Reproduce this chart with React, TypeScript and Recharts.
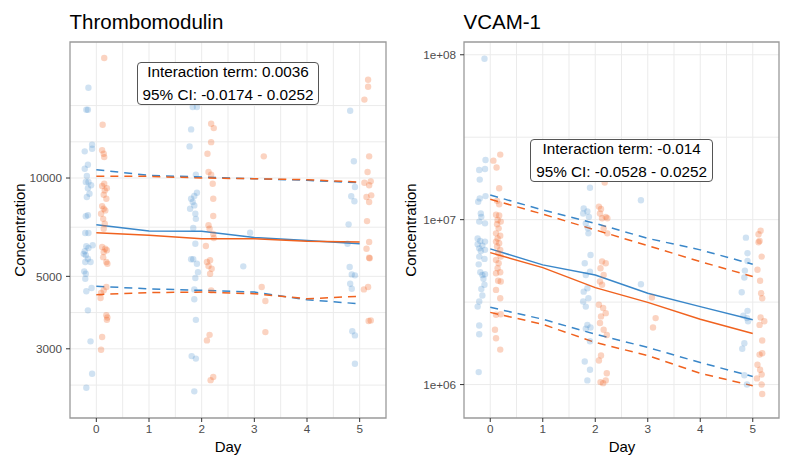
import { ComposedChart, Scatter, Line, XAxis, YAxis, CartesianGrid, ReferenceArea } from 'recharts';

// prediction days for the fitted lines
const days = [0, 1, 2, 3, 4, 5];
const dayTicks = [0, 1, 2, 3, 4, 5];
const dayGrid = [0, 0.5, 1, 1.5, 2, 2.5, 3, 3.5, 4, 4.5, 5];

// ---- Thrombomodulin ----
const tmTicks = [3000, 5000, 10000];
const tmTickLabels = ['3000', '5000', '10000'];
const tmGrid = [2323, 3000, 3873, 5000, 7071, 10000, 12909, 16667];
const tmDomain = [1842, 26090];

const tmBlueMid = [7195, 6880, 6868, 6570, 6440, 6295];
const tmOrangeMid = [6800, 6675, 6515, 6515, 6400, 6365];
const tmBlueHi = [10600, 10190, 10070, 9950, 9840, 9675];
const tmOrangeHi = [10120, 10120, 10000, 9950, 9880, 9720];
const tmBlueLo = [4660, 4580, 4530, 4475, 4240, 4120];
const tmOrangeLo = [4395, 4460, 4475, 4425, 4270, 4345];

const tmBluePts = [
  [-0.15, 18900], [-0.19, 16180], [-0.16, 16180], [-0.22, 12070], [-0.08, 12650], [-0.08, 12290],
  [-0.16, 10980], [-0.22, 10680], [-0.18, 10140], [-0.2, 9720], [-0.15, 9720], [-0.1, 9500],
  [-0.16, 9310], [-0.13, 8950], [-0.18, 8750], [-0.2, 7635], [-0.16, 7690], [-0.21, 6785],
  [-0.15, 6785], [-0.07, 6225], [-0.19, 6180], [-0.15, 6105], [-0.22, 5965], [-0.24, 5860],
  [-0.2, 5800], [-0.16, 5660], [-0.11, 5530], [-0.21, 5530], [-0.23, 5180], [-0.2, 5090],
  [-0.21, 4915], [-0.19, 4500], [-0.09, 4605], [-0.16, 3935], [-0.11, 3162], [-0.08, 2517],
  [-0.19, 2280],
  [1.83, 16490], [1.91, 16490], [1.8, 14090], [1.77, 12500], [1.89, 10240], [1.8, 8645],
  [1.86, 8810], [1.91, 9015], [1.83, 8445], [1.86, 8245], [1.78, 8055], [1.88, 7780],
  [1.89, 7500], [1.84, 7030], [1.88, 6295], [1.8, 5640], [1.84, 5640], [1.91, 5465],
  [1.93, 5150], [1.88, 4940], [1.86, 4560], [1.86, 4255], [1.89, 3680], [1.81, 2850],
  [1.89, 2800], [1.86, 2223],
  [2.92, 6800], [2.79, 5365],
  [4.82, 16070], [4.89, 11250], [4.91, 9385], [4.84, 8790], [4.9, 8486], [4.79, 7215],
  [4.77, 6295], [4.81, 5340], [4.85, 5070], [4.91, 5035], [4.82, 4748], [4.85, 4580],
  [4.86, 3394], [4.91, 3298], [4.91, 2700],
];

const tmOrangePts = [
  [0.15, 23300], [0.12, 14560], [0.11, 12160], [0.14, 11870], [0.15, 11590], [0.15, 9605],
  [0.2, 9310], [0.11, 9450], [0.16, 9165], [0.14, 8890], [0.19, 8645], [0.11, 8205],
  [0.14, 8055], [0.17, 7960], [0.09, 7780], [0.13, 7500], [0.16, 7245], [0.14, 6995],
  [0.11, 6150], [0.17, 6075], [0.14, 5935], [0.2, 6010], [0.13, 5725], [0.19, 5530],
  [0.21, 5465], [0.19, 4640], [0.14, 4530], [0.09, 4450], [0.08, 4292], [0.19, 3800],
  [0.2, 3680], [0.21, 3740], [0.11, 3260], [0.09, 2980],
  [2.18, 14660], [2.23, 14220], [2.18, 12880], [2.11, 11870], [2.13, 10430], [2.18, 10240],
  [2.21, 9605], [2.22, 8645], [2.22, 7650], [2.13, 7165], [2.15, 6995], [2.22, 6745],
  [2.08, 6195], [2.23, 6550], [2.16, 5600], [2.1, 5530], [2.13, 5380], [2.19, 5275],
  [2.16, 5090], [2.18, 4530], [2.15, 3310], [2.1, 3183], [2.22, 2460], [2.17, 2405],
  [3.18, 11650], [3.14, 4640], [3.21, 4202], [3.21, 3375],
  [5.16, 20000], [5.16, 19040], [5.09, 17380], [5.18, 11650], [5.15, 10430], [5.09, 9674],
  [5.21, 9770], [5.18, 9500], [5.13, 8750], [5.22, 8850], [5.18, 8445], [5.14, 7380],
  [5.18, 6370], [5.13, 6075], [5.18, 5700], [5.19, 5680], [5.08, 4560], [5.16, 4640],
  [5.17, 3650], [5.21, 3665],
];

// ---- VCAM-1 ----
const vcTicks = [1e6, 1e7, 1e8];
const vcTickLabels = ['1e+06', '1e+07', '1e+08'];
const vcGrid = [1e6, 3.162e6, 1e7, 3.162e7, 1e8];
const vcDomain = [6.27e5, 1.195e8];

const vcBlueMid = [6.65e6, 5.32e6, 4.62e6, 3.58e6, 2.97e6, 2.47e6];
const vcOrangeMid = [6.31e6, 5.12e6, 3.87e6, 3.15e6, 2.49e6, 2.04e6];
const vcBlueHi = [1.41e7, 1.145e7, 9.5e6, 7.7e6, 6.56e6, 5.37e6];
const vcOrangeHi = [1.33e7, 1.08e7, 8.67e6, 6.96e6, 5.57e6, 4.52e6];
const vcBlueLo = [2.94e6, 2.49e6, 2.02e6, 1.68e6, 1.36e6, 1.12e6];
const vcOrangeLo = [2.74e6, 2.32e6, 1.8e6, 1.5e6, 1.17e6, 9.84e5];

const vcBluePts = [
  [-0.11, 9.46e7], [-0.09, 2.3e7], [-0.21, 2.0e7], [-0.1, 2.03e7], [-0.2, 1.75e7], [-0.23, 1.285e7],
  [-0.2, 1.346e7], [-0.09, 1.39e7], [-0.18, 1.09e7], [-0.21, 9.73e6], [-0.1, 9.5e6], [-0.17, 1.04e7],
  [-0.24, 7.7e6], [-0.19, 7.43e6], [-0.1, 7.36e6], [-0.15, 6.96e6], [-0.24, 7.09e6], [-0.21, 6.7e6],
  [-0.18, 6.46e6], [-0.1, 6.56e6], [-0.21, 5.97e6], [-0.11, 5.78e6], [-0.22, 5.36e6], [-0.19, 4.8e6],
  [-0.15, 4.62e6], [-0.1, 4.67e6], [-0.13, 4.38e6], [-0.11, 4.03e6], [-0.17, 3.8e6], [-0.15, 3.47e6],
  [-0.21, 3.19e6], [-0.24, 2.97e6], [-0.21, 2.28e6], [-0.21, 2.02e6], [-0.22, 1.19e6],
  [1.9, 1.56e7], [1.78, 1.17e7], [1.85, 1.12e7], [1.77, 1.09e7], [1.88, 1.04e7], [1.82, 9.5e6],
  [1.86, 8.86e6], [1.87, 8.26e6], [1.91, 6.11e6], [1.8, 5.44e6], [1.9, 4.84e6], [1.82, 4.62e6],
  [1.85, 3.84e6], [1.78, 3.66e6], [1.87, 3.34e6], [1.77, 3.19e6], [1.82, 2.97e6], [1.85, 2.3e6],
  [1.91, 2.22e6], [1.82, 2.18e6], [1.9, 1.83e6], [1.8, 1.38e6], [1.9, 1.23e6], [1.85, 1.06e6],
  [2.87, 1.31e7], [2.87, 4.06e6],
  [4.87, 7.78e6], [4.9, 6.26e6], [4.9, 5.62e6], [4.85, 4.91e6], [4.84, 4.46e6], [4.79, 3.63e6],
  [4.9, 2.8e6], [4.82, 2.62e6], [4.89, 2.53e6], [4.91, 2.42e6], [4.84, 1.78e6], [4.8, 1.65e6],
  [4.84, 1.14e6], [4.89, 1.0e6],
];

const vcOrangePts = [
  [0.06, 2.28e7], [0.19, 2.48e7], [0.12, 2.07e7], [0.17, 1.55e7], [0.13, 1.3e7], [0.17, 1.24e7],
  [0.11, 1.07e7], [0.17, 1.06e7], [0.14, 9.95e6], [0.2, 9.73e6], [0.13, 9.37e6], [0.16, 8.86e6],
  [0.11, 8.26e6], [0.19, 8.0e6], [0.14, 7.7e6], [0.11, 7.36e6], [0.17, 7.19e6], [0.13, 6.87e6],
  [0.19, 6.56e6], [0.15, 6.26e6], [0.2, 5.97e6], [0.11, 5.7e6], [0.16, 5.44e6], [0.14, 5.07e6],
  [0.19, 4.8e6], [0.11, 4.73e6], [0.15, 4.26e6], [0.2, 4.22e6], [0.11, 3.75e6], [0.19, 3.34e6],
  [0.11, 2.65e6], [0.2, 2.67e6], [0.09, 2.15e6], [0.11, 1.91e6], [0.19, 1.63e6],
  [2.18, 1.68e7], [2.07, 1.2e7], [2.11, 1.16e7], [2.09, 1.09e7], [2.2, 1.04e7], [2.13, 1.02e7],
  [2.23, 1.02e7], [2.16, 8.86e6], [2.23, 8.26e6], [2.13, 5.57e6], [2.2, 5.44e6], [2.1, 5.07e6],
  [2.16, 4.62e6], [2.09, 4.22e6], [2.13, 4.03e6], [2.07, 3.05e6], [2.15, 2.91e6], [2.11, 2.59e6],
  [2.2, 2.71e6], [2.09, 2.36e6], [2.16, 2.15e6], [2.22, 2.0e6], [2.11, 1.5e6], [2.07, 1.4e6],
  [2.22, 1.17e6], [2.1, 1.035e6], [2.15, 1.02e6], [2.2, 1.06e6],
  [3.08, 3.37e6], [3.15, 2.53e6], [3.1, 2.22e6],
  [5.15, 8.58e6], [5.11, 8.15e6], [5.13, 7.43e6], [5.11, 7.3e6], [5.17, 5.97e6], [5.09, 4.97e6],
  [5.14, 4.26e6], [5.16, 3.58e6], [5.18, 3.34e6], [5.15, 2.55e6], [5.22, 2.42e6], [5.13, 2.3e6],
  [5.18, 1.85e6], [5.18, 1.55e6], [5.13, 1.52e6], [5.09, 1.32e6], [5.14, 1.23e6], [5.17, 1.15e6],
  [5.08, 1.09e6], [5.17, 1.0e6], [5.18, 8.77e5],
];

const BLUE = '#3a87c9';
const ORANGE = '#f0621f';
const FONT = '"Liberation Sans", Arial, sans-serif';

const toPts = (arr: number[][]) => arr.map(([x, y]) => ({ x, y }));
const toLine = (vals: number[]) => days.map((d, i) => ({ x: d, y: vals[i] }));

const dot = (color: string, op: number) => (p: any) => (
  <circle cx={p.cx} cy={p.cy} r={3.2} fill={color} fillOpacity={op} stroke="none" />
);

const Panel = ({ left, title, blue, orange, lines, ticks, tickLabels, grid, domain, box, boxPos, marginRight, ylabX }: any) => {
  const fmt = (v: number) => tickLabels[ticks.indexOf(v)] ?? String(v);
  return (
    <div style={{ position: 'absolute', left, top: 0, width: 394, height: 457 }}>
      <ComposedChart width={394} height={457} margin={{ top: 42, right: marginRight, bottom: 0, left: 0 }}>
        <CartesianGrid horizontalValues={grid} verticalValues={dayGrid} stroke="#ebebeb" strokeWidth={1} />
        <XAxis
          type="number" dataKey="x" domain={[-0.5, 5.5]} ticks={dayTicks} interval={0} allowDataOverflow
          axisLine={false} tickLine={{ stroke: '#333' }} tickSize={4} tickMargin={3} height={39}
          tick={{ fill: '#4d4d4d', fontSize: 11.7 }}
        />
        <YAxis
          type="number" dataKey="y" scale="log" domain={domain} ticks={ticks} interval={0} allowDataOverflow
          axisLine={false} tickLine={{ stroke: '#333' }} tickSize={4} tickMargin={4} width={70}
          tick={{ fill: '#4d4d4d', fontSize: 11.7 }} tickFormatter={fmt}
        />
        <Scatter data={toPts(blue)} shape={dot(BLUE, 0.24)} isAnimationActive={false} />
        <Scatter data={toPts(orange)} shape={dot(ORANGE, 0.28)} isAnimationActive={false} />
        <Line data={toLine(lines.blueHi)} dataKey="y" stroke={BLUE} strokeWidth={1.5} strokeDasharray="8 6" dot={false} activeDot={false} isAnimationActive={false} />
        <Line data={toLine(lines.orangeHi)} dataKey="y" stroke={ORANGE} strokeWidth={1.5} strokeDasharray="8 6" dot={false} activeDot={false} isAnimationActive={false} />
        <Line data={toLine(lines.blueLo)} dataKey="y" stroke={BLUE} strokeWidth={1.5} strokeDasharray="8 6" dot={false} activeDot={false} isAnimationActive={false} />
        <Line data={toLine(lines.orangeLo)} dataKey="y" stroke={ORANGE} strokeWidth={1.5} strokeDasharray="8 6" dot={false} activeDot={false} isAnimationActive={false} />
        <Line data={toLine(lines.blueMid)} dataKey="y" stroke={BLUE} strokeWidth={1.5} dot={false} activeDot={false} isAnimationActive={false} />
        <Line data={toLine(lines.orangeMid)} dataKey="y" stroke={ORANGE} strokeWidth={1.5} dot={false} activeDot={false} isAnimationActive={false} />
        <ReferenceArea x1={-0.5} x2={5.5} y1={domain[0]} y2={domain[1]} fill="none" stroke="#9a9a9a" strokeWidth={1.3} ifOverflow="visible" />
      </ComposedChart>
      <div style={{ position: 'absolute', left: 69.5, top: 12, fontSize: 20.5, lineHeight: 1, color: '#000', whiteSpace: 'nowrap' }}>{title}</div>
      <div style={{ position: 'absolute', left: ylabX, top: 230, transform: 'translate(-50%, -50%) rotate(-90deg)', fontSize: 15, lineHeight: 1, whiteSpace: 'nowrap' }}>Concentration</div>
      <div style={{ position: 'absolute', left: 228, top: 445.7, transform: 'translate(-50%, -50%)', fontSize: 15, lineHeight: 1 }}>Day</div>
      <div style={{
        position: 'absolute', left: boxPos[0], top: boxPos[1], width: boxPos[2], height: boxPos[3], boxSizing: 'border-box',
        border: '1px solid #555', borderRadius: 4, background: '#fff', textAlign: 'center', fontSize: 15.3, lineHeight: '22.6px', whiteSpace: 'nowrap',
      }}>
        <div style={{ marginTop: -2 }}>{box[0]}</div>
        <div>{box[1]}</div>
      </div>
    </div>
  );
};

export default function App() {
  return (
    <div style={{ position: 'absolute', left: 0, top: 0, width: 788, height: 457, background: '#fff', fontFamily: FONT, color: '#000' }}>
      <Panel
        left={0} title="Thrombomodulin" blue={tmBluePts} orange={tmOrangePts}
        lines={{ blueMid: tmBlueMid, orangeMid: tmOrangeMid, blueHi: tmBlueHi, orangeHi: tmOrangeHi, blueLo: tmBlueLo, orangeLo: tmOrangeLo }}
        ticks={tmTicks} tickLabels={tmTickLabels} grid={tmGrid} domain={tmDomain}
        box={['Interaction term: 0.0036', '95% CI: -0.0174 - 0.0252']} boxPos={[136.7, 62.3, 182.6, 42.7]}
        marginRight={8} ylabX={19.2}
      />
      <Panel
        left={394} title="VCAM-1" blue={vcBluePts} orange={vcOrangePts}
        lines={{ blueMid: vcBlueMid, orangeMid: vcOrangeMid, blueHi: vcBlueHi, orangeHi: vcOrangeHi, blueLo: vcBlueLo, orangeLo: vcOrangeLo }}
        ticks={vcTicks} tickLabels={vcTickLabels} grid={vcGrid} domain={vcDomain}
        box={['Interaction term: -0.014', '95% CI: -0.0528 - 0.0252']} boxPos={[136, 139.3, 183.3, 42.4]}
        marginRight={9} ylabX={15.9}
      />
    </div>
  );
}
